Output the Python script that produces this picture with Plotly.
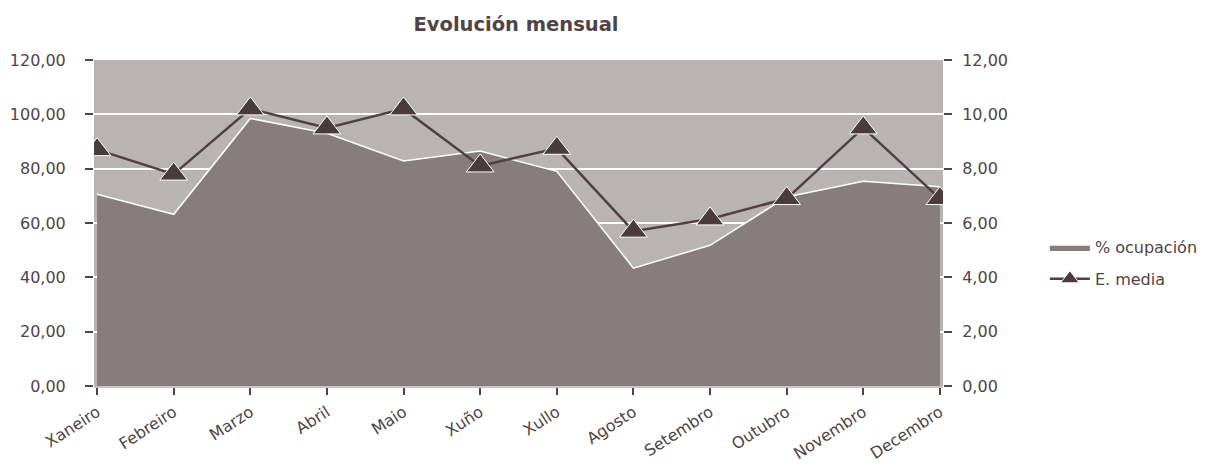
import plotly.graph_objects as go

months = ["Xaneiro", "Febreiro", "Marzo", "Abril", "Maio", "Xuño", "Xullo",
          "Agosto", "Setembro", "Outubro", "Novembro", "Decembro"]
ocupacion = [70.6, 63.2, 98.5, 93.0, 82.8, 86.5, 79.0, 43.4, 51.8, 69.6, 75.4, 73.3]
estancia_media = [8.7, 7.8, 10.2, 9.5, 10.2, 8.1, 8.75, 5.7, 6.15, 6.9, 9.5, 6.9]

left_ticks = [0, 20, 40, 60, 80, 100, 120]
right_ticks = [0, 2, 4, 6, 8, 10, 12]

TEXT = "#504446"
FONT = "DejaVu Sans"

# The page body has an 8px default margin, so the figure is shrunk to fit.
W, H = 1207, 462

fig = go.Figure()
fig.add_trace(go.Scatter(
    x=months, y=ocupacion, name="% ocupación", mode="lines",
    fill="tozeroy", fillcolor="#877d7d",
    line=dict(color="white", width=1.5), yaxis="y",
    legendgroup="a",
))
fig.add_trace(go.Scatter(
    x=months, y=estancia_media, name="E. media", mode="lines+markers",
    line=dict(color="#4e4043", width=2.5),
    marker=dict(symbol="triangle-up", size=24, color="#4a3c3e",
                line=dict(color="white", width=1)),
    yaxis="y2", legendgroup="b",
))

fig.update_layout(
    width=W, height=H,
    margin=dict(l=86, r=272, t=52, b=84),
    paper_bgcolor="white", plot_bgcolor="#b9b3b3",
    separators=",.",
    font=dict(family=FONT, color=TEXT, size=16),
    title=dict(text="<b>Evolución mensual</b>", x=508 / W, xanchor="center",
               xref="container", yref="container",
               y=1 - 16 / H, yanchor="middle",
               font=dict(size=19.5, color=TEXT, family=FONT)),
    showlegend=True,
    legend=dict(x=1.12, y=0.377, xanchor="left", yanchor="middle",
                font=dict(size=16, color=TEXT, family=FONT),
                bgcolor="rgba(0,0,0,0)", tracegroupgap=8,
                traceorder="grouped", itemwidth=40),
    xaxis=dict(type="category", range=[-0.04, 11.04], showgrid=False,
               ticks="outside", ticklen=7, tickcolor=TEXT, tickwidth=1.5,
               tickangle=-33, tickfont=dict(size=16), ticklabelstandoff=2,
               showline=True, linecolor="#c9c3c3", linewidth=1.5,
               zeroline=False, automargin=False),
    yaxis=dict(range=[0, 120], tickvals=left_ticks, tickformat=".2f",
               showgrid=True, gridcolor="white", gridwidth=1.5,
               ticks="outside", ticklen=8, tickcolor=TEXT, tickwidth=1.5,
               ticklabelstandoff=16,
               showline=False, zeroline=False, tickfont=dict(size=16),
               automargin=False),
    yaxis2=dict(range=[0, 12], tickvals=right_ticks, tickformat=".2f",
                overlaying="y", side="right", showgrid=False,
                ticks="outside", ticklen=8, tickcolor=TEXT, tickwidth=1.5,
                ticklabelstandoff=7,
                showline=False, zeroline=False, tickfont=dict(size=16),
                automargin=False),
)

fig.write_html("out.html")
